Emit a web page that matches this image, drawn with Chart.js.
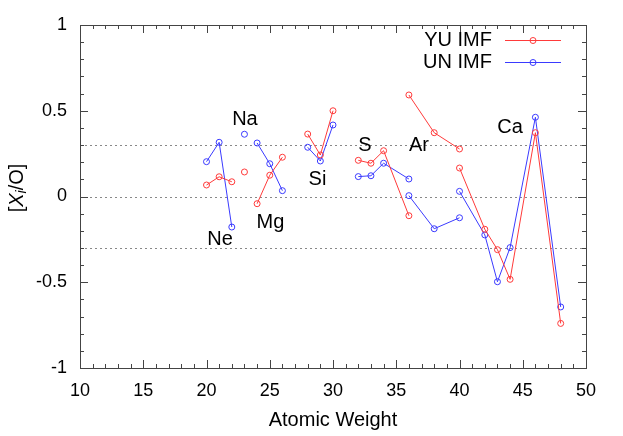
<!DOCTYPE html>
<html>
<head>
<meta charset="utf-8">
<script src="https://cdn.jsdelivr.net/npm/chart.js@4"></script>
<style>
    html, body { margin: 0; padding: 0; background: #fff; }
    #wrap { width: 623px; height: 436px; }
</style>
</head>
<body>
<div id="wrap"><canvas id="chart" width="623" height="436"></canvas></div>
<script>
// atomic weights for each element group
const neX = [20, 21, 22];
const naX = [23];
const mgX = [24, 25, 26];
const siX = [28, 29, 30];
const sX = [32, 33, 34, 36];
const arX = [36, 38, 40];
const caX = [40, 42, 43, 44, 46, 48];

// YU IMF values
const yuNe = [0.067, 0.115, 0.086];
const yuNa = [0.143];
const yuMg = [-0.042, 0.124, 0.229];
const yuSi = [0.364, 0.242, 0.5];
const yuS = [0.211, 0.194, 0.267, -0.112];
const yuAr = [0.592, 0.372, 0.277];
const yuCa = [0.166, -0.191, -0.31, -0.483, 0.372, -0.74];

// UN IMF values
const unNe = [0.203, 0.316, -0.178];
const unNa = [0.363];
const unMg = [0.312, 0.191, 0.034];
const unSi = [0.287, 0.207, 0.417];
const unS = [0.116, 0.121, 0.194, 0.102];
const unAr = [0.005, -0.188, -0.124];
const unCa = [0.030, -0.224, -0.497, -0.298, 0.462, -0.644];

// element names and where they sit (data units)
const elemNames = ['Ne', 'Na', 'Mg', 'Si', 'S', 'Ar', 'Ca'];
const elemLabelX = [21.07, 23.04, 25.06, 28.77, 32.53, 36.8, 44.0];
const elemLabelY = [-0.25, 0.45, -0.15, 0.10, 0.30, 0.30, 0.40];

const refLines = [0.3, 0, -0.3];

const groupX = [neX, naX, mgX, siX, sX, arX, caX];

function buildPoints(groups) {
    const pts = [];
    groups.forEach((ys, g) => {
        if (g > 0) pts.push({ x: groupX[g][0], y: null });
        ys.forEach((v, i) => pts.push({ x: groupX[g][i], y: v }));
    });
    return pts;
}

const FONT = 'Liberation Sans, Arial, Helvetica, sans-serif';
const RED = '#ff3a3a';
const BLUE = '#3a3aff';

const framePlugin = {
    id: 'frame',
    beforeDatasetsDraw(chart) {
        const { ctx, chartArea: a, scales: { y } } = chart;
        ctx.save();
        ctx.strokeStyle = '#888';
        ctx.lineWidth = 1;
        ctx.setLineDash([2, 3]);
        refLines.forEach(v => {
            const py = Math.round(y.getPixelForValue(v)) + 0.5;
            ctx.beginPath();
            ctx.moveTo(a.left, py);
            ctx.lineTo(a.right, py);
            ctx.stroke();
        });
        ctx.restore();
    },
    afterDraw(chart) {
        const { ctx, chartArea: a, scales: { x, y } } = chart;
        ctx.save();
        ctx.strokeStyle = '#444';
        ctx.lineWidth = 1;
        ctx.beginPath();
        // x ticks, top and bottom
        for (let v = 10; v <= 50; v++) {
            const px = Math.round(x.getPixelForValue(v)) + 0.5;
            const len = v % 5 === 0 ? 8 : 4;
            ctx.moveTo(px, a.bottom); ctx.lineTo(px, a.bottom - len);
            ctx.moveTo(px, a.top); ctx.lineTo(px, a.top + len);
        }
        // y ticks, left and right
        for (let k = -10; k <= 10; k++) {
            const py = Math.round(y.getPixelForValue(k / 10)) + 0.5;
            const len = k % 5 === 0 ? 8 : 4;
            ctx.moveTo(a.left, py); ctx.lineTo(a.left + len, py);
            ctx.moveTo(a.right, py); ctx.lineTo(a.right - len, py);
        }
        ctx.stroke();
        ctx.strokeRect(Math.round(a.left) + 0.5, Math.round(a.top) + 0.5,
            Math.round(a.right - a.left), Math.round(a.bottom - a.top));

        // element labels
        ctx.fillStyle = '#000';
        ctx.font = '20px ' + FONT;
        ctx.textAlign = 'center';
        ctx.textBaseline = 'middle';
        elemNames.forEach((n, i) => {
            ctx.fillText(n, x.getPixelForValue(elemLabelX[i]), y.getPixelForValue(elemLabelY[i]));
        });

        // legend
        const items = chart.data.datasets;
        items.forEach((ds, i) => {
            const ly = 40 + i * 22;
            ctx.fillStyle = '#000';
            ctx.textAlign = 'right';
            ctx.font = '20px ' + FONT;
            ctx.fillText(ds.label, 492, ly);
            ctx.strokeStyle = ds.borderColor;
            ctx.beginPath();
            ctx.moveTo(505, ly + 0.5);
            ctx.lineTo(561, ly + 0.5);
            ctx.stroke();
            ctx.beginPath();
            ctx.arc(533, ly + 0.5, 3, 0, Math.PI * 2);
            ctx.stroke();
        });

        // y axis title [X_i/O]
        ctx.translate(17, 188);
        ctx.rotate(-Math.PI / 2);
        ctx.fillStyle = '#000';
        ctx.textAlign = 'left';
        ctx.textBaseline = 'middle';
        const parts = [
            { t: '[', f: '20px ' + FONT, dy: 0 },
            { t: 'X', f: 'italic 20px ' + FONT, dy: 0 },
            { t: 'i', f: 'italic 14px ' + FONT, dy: 5 },
            { t: '/O]', f: '20px ' + FONT, dy: 0 }
        ];
        let total = 0;
        parts.forEach(p => { ctx.font = p.f; total += ctx.measureText(p.t).width; });
        let cx = -total / 2;
        parts.forEach(p => {
            ctx.font = p.f;
            ctx.fillText(p.t, cx, p.dy);
            cx += ctx.measureText(p.t).width;
        });
        ctx.restore();
    }
};

new Chart(document.getElementById('chart'), {
    type: 'line',
    data: {
        datasets: [
            {
                label: 'YU IMF',
                data: buildPoints([yuNe, yuNa, yuMg, yuSi, yuS, yuAr, yuCa]),
                borderColor: RED,
                borderWidth: 1,
                pointRadius: 3,
                pointBorderWidth: 1,
                pointBackgroundColor: 'rgba(0,0,0,0)',
                pointBorderColor: RED,
                spanGaps: false,
                tension: 0
            },
            {
                label: 'UN IMF',
                data: buildPoints([unNe, unNa, unMg, unSi, unS, unAr, unCa]),
                borderColor: BLUE,
                borderWidth: 1,
                pointRadius: 3,
                pointBorderWidth: 1,
                pointBackgroundColor: 'rgba(0,0,0,0)',
                pointBorderColor: BLUE,
                spanGaps: false,
                tension: 0
            }
        ]
    },
    options: {
        responsive: false,
        animation: false,
        events: [],
        layout: { padding: { left: 0, top: 25, right: 37, bottom: 0 } },
        plugins: {
            legend: { display: false },
            tooltip: { enabled: false }
        },
        scales: {
            x: {
                type: 'linear',
                min: 10,
                max: 50,
                grid: { display: false, drawTicks: false },
                border: { display: false },
                ticks: {
                    stepSize: 5,
                    color: '#000',
                    padding: 12,
                    maxRotation: 0,
                    font: { family: FONT, size: 18 }
                },
                title: {
                    display: true,
                    text: 'Atomic Weight',
                    color: '#000',
                    font: { family: FONT, size: 20 }
                },
                afterFit(scale) { scale.height = 68; }
            },
            y: {
                min: -1,
                max: 1,
                grid: { display: false, drawTicks: false },
                border: { display: false },
                ticks: {
                    stepSize: 0.5,
                    color: '#000',
                    padding: 13,
                    font: { family: FONT, size: 18 },
                    callback: value => String(Math.round(value * 10) / 10)
                },
                afterFit(scale) { scale.width = 80; }
            }
        }
    },
    plugins: [framePlugin]
});
</script>
</body>
</html>
